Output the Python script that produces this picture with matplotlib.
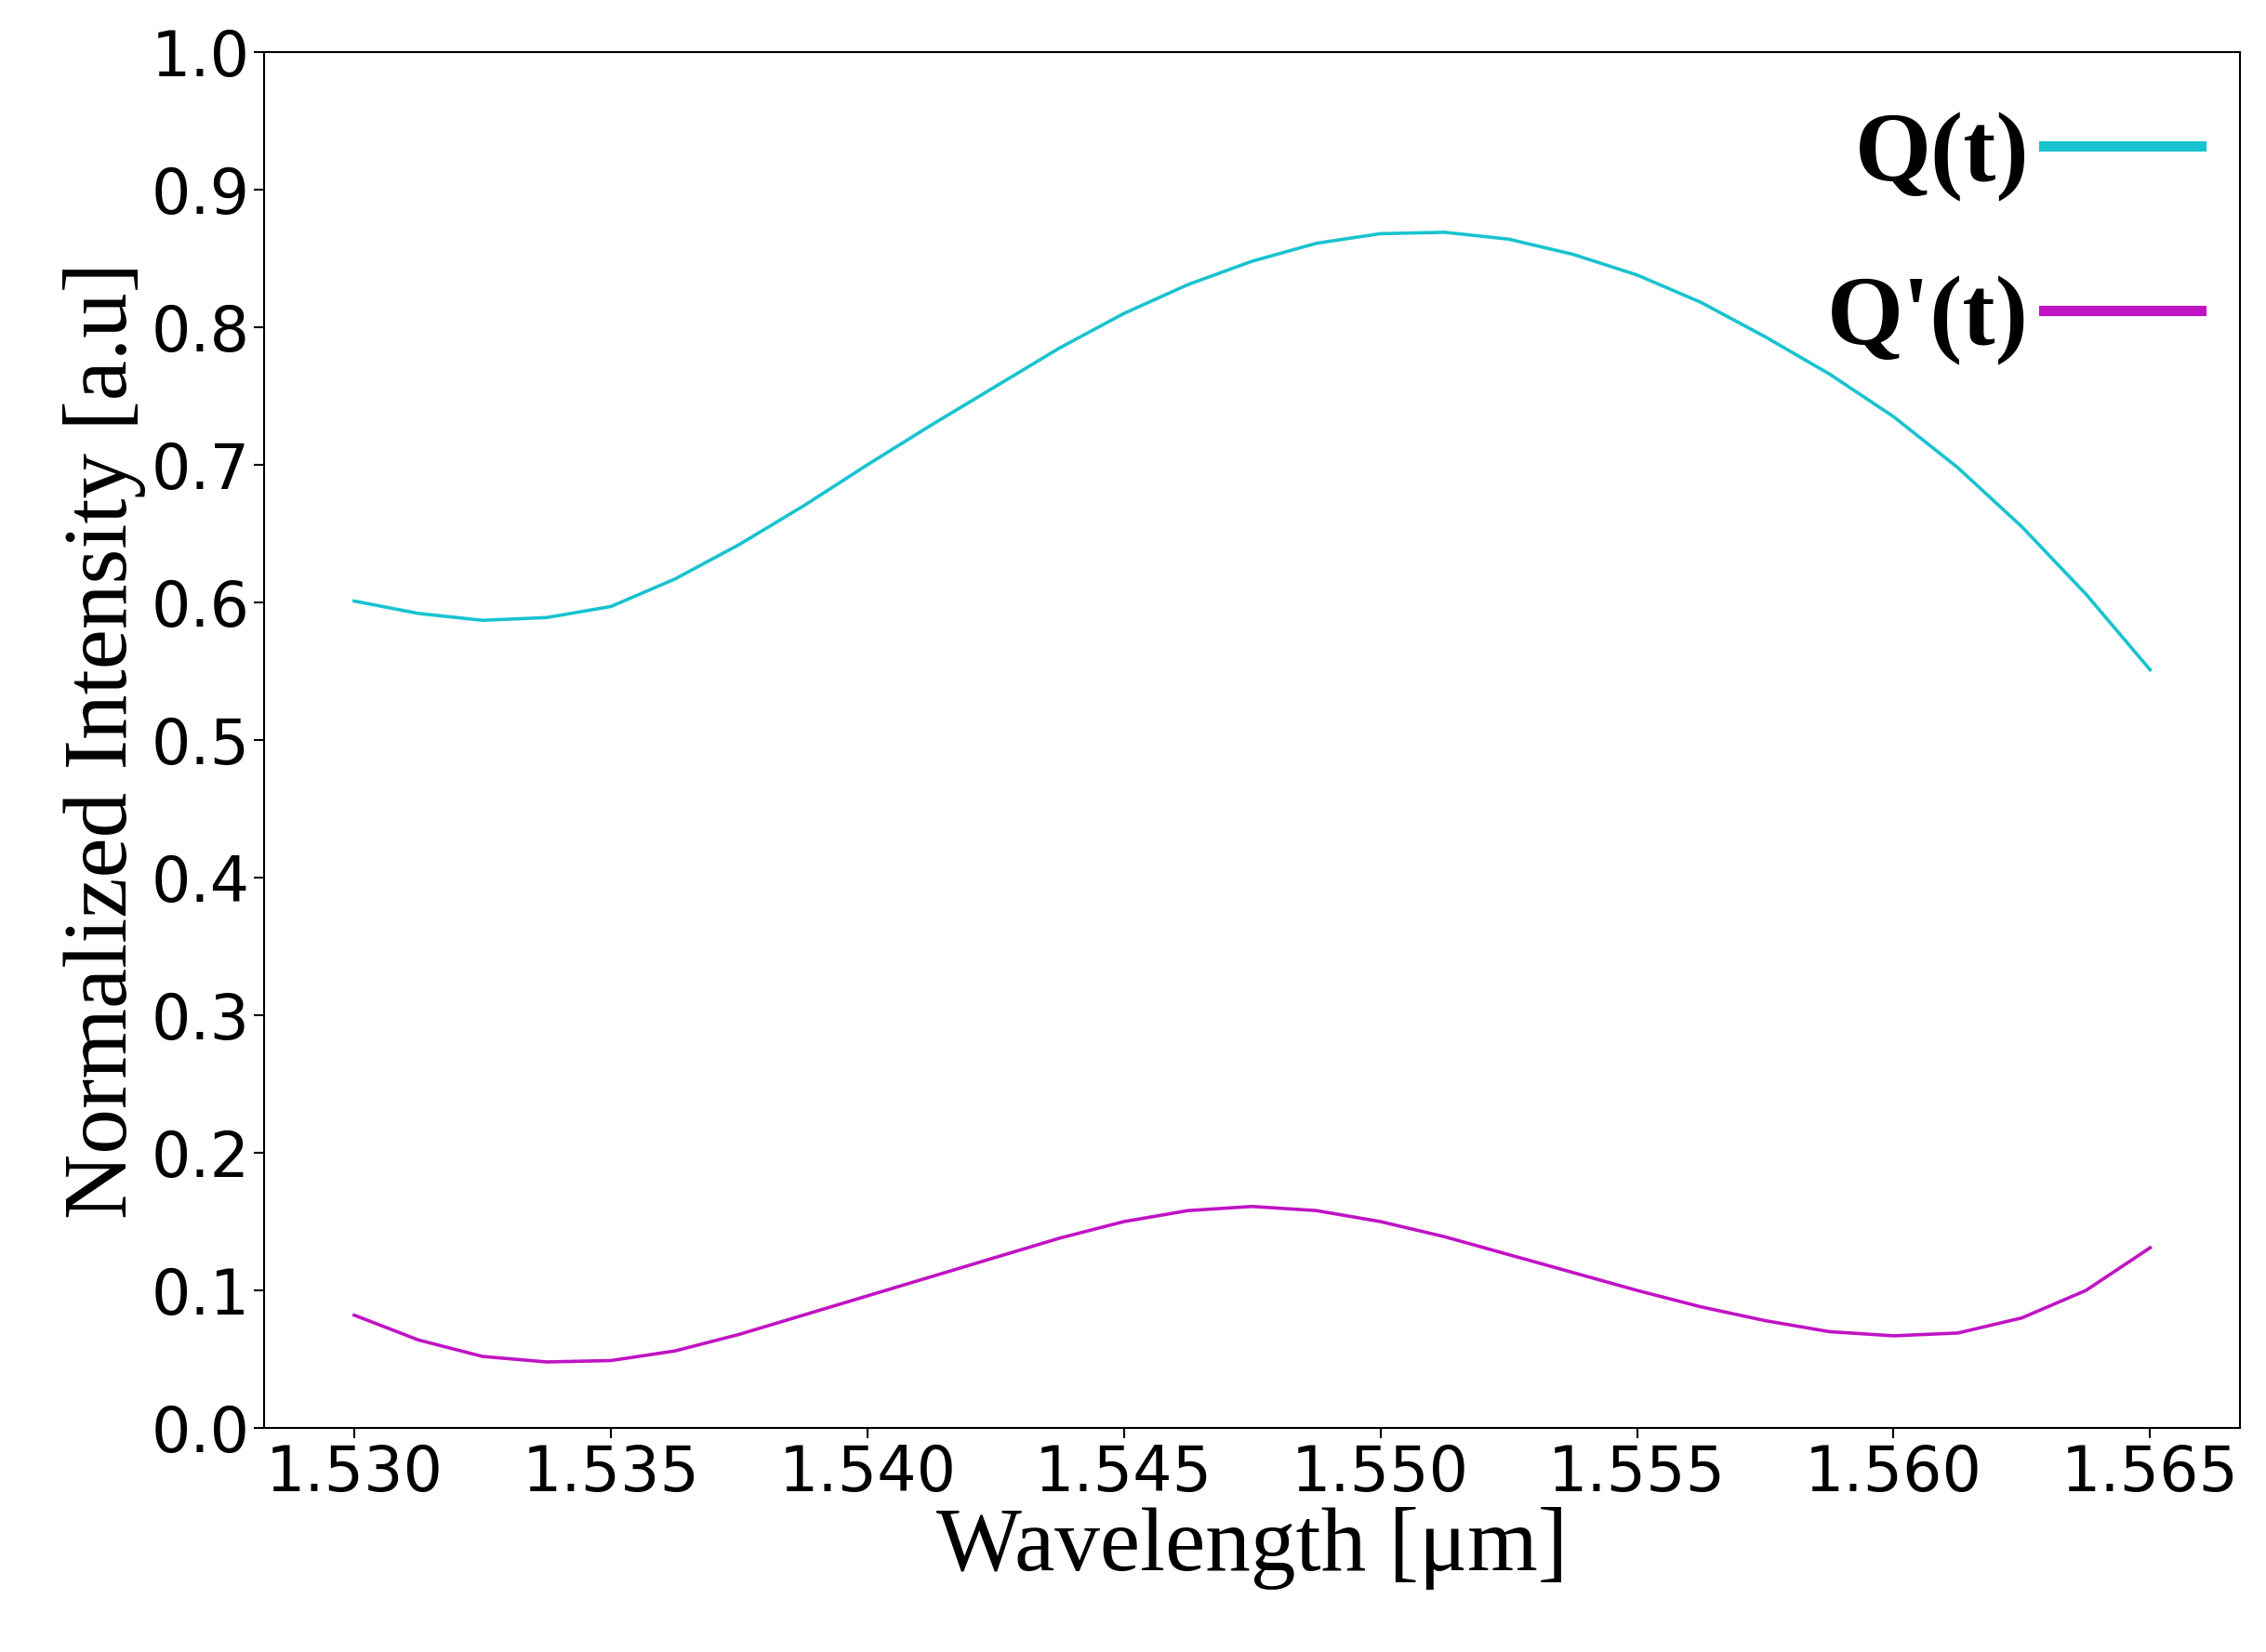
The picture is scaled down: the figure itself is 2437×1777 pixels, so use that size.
import numpy as np
import matplotlib
matplotlib.use("Agg")
import matplotlib.pyplot as plt
from matplotlib.lines import Line2D

# values
wavelength = [1.530, 1.53125, 1.5325, 1.53375, 1.535, 1.53625, 1.5375, 1.53875,
              1.540, 1.54125, 1.5425, 1.54375, 1.545, 1.54625, 1.5475, 1.54875,
              1.550, 1.55125, 1.5525, 1.55375, 1.555, 1.55625, 1.5575, 1.55875,
              1.560, 1.56125, 1.5625, 1.56375, 1.565]
q = [0.601, 0.592, 0.587, 0.589, 0.597, 0.617, 0.642, 0.670,
     0.700, 0.729, 0.757, 0.785, 0.810, 0.831, 0.848, 0.861,
     0.868, 0.869, 0.864, 0.853, 0.838, 0.818, 0.793, 0.766,
     0.735, 0.698, 0.655, 0.606, 0.551]
q_prime = [0.082, 0.064, 0.052, 0.048, 0.049, 0.056, 0.068, 0.082,
           0.096, 0.110, 0.124, 0.138, 0.150, 0.158, 0.161, 0.158,
           0.150, 0.139, 0.126, 0.113, 0.100, 0.088, 0.078, 0.070,
           0.067, 0.069, 0.080, 0.100, 0.131]
x_ticks = [1.530, 1.535, 1.540, 1.545, 1.550, 1.555, 1.560, 1.565]
y_ticks = [0.0, 0.1, 0.2, 0.3, 0.4, 0.5, 0.6, 0.7, 0.8, 0.9, 1.0]

cq = '#19c3cf'
cqp = '#c014c4'

fig = plt.figure(figsize=(24.37, 17.77), dpi=100)
ax = fig.add_axes([0.1167, 0.1356, 0.8718, 0.8329])

ax.plot(wavelength, q, color=cq, lw=2.6)
ax.plot(wavelength, q_prime, color=cqp, lw=2.6)

ax.set_ylim(0, 1)
ax.set_xticks(x_ticks)
ax.set_xticklabels([f'{v:.3f}' for v in x_ticks])
ax.set_yticks(y_ticks)
ax.set_yticklabels([f'{v:.1f}' for v in y_ticks])
ax.tick_params(labelsize=48, width=1.5, length=8)
for s in ax.spines.values():
    s.set_linewidth(1.5)

serif = ['Liberation Serif', 'DejaVu Serif']
ax.set_xlabel('Wavelength [μm]', fontsize=70, family=serif, labelpad=2)
ax.set_ylabel('Normalized Intensity [a.u]', fontsize=70, family=serif, labelpad=4)

handles = [Line2D([], [], color=cq, lw=8), Line2D([], [], color=cqp, lw=8)]
ax.legend(handles, ['Q(t)', "Q'(t)"], loc='upper right', frameon=False,
          markerfirst=False, prop={'family': serif, 'weight': 'bold', 'size': 76},
          handlelength=1.6, handletextpad=0.15, labelspacing=0.75,
          borderaxespad=0.0, bbox_to_anchor=(1.0, 0.985))

fig.savefig('out.png', dpi=100)
